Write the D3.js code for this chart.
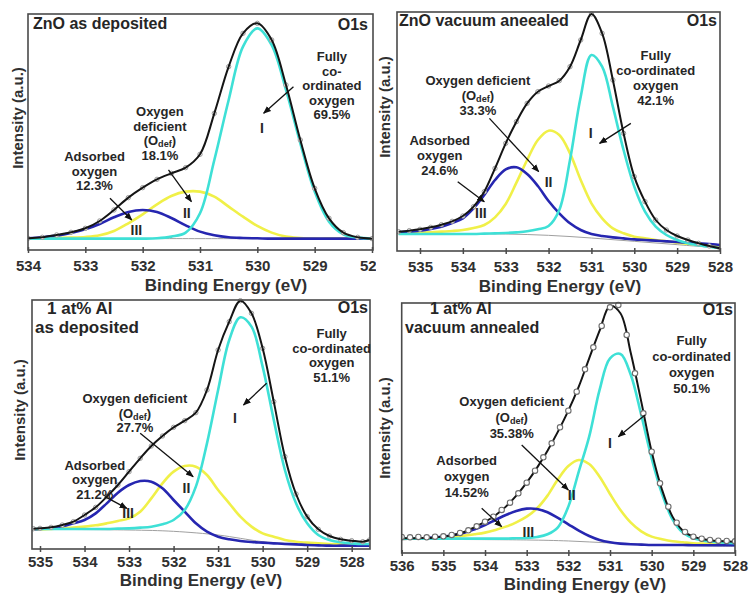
<!DOCTYPE html>
<html><head><meta charset="utf-8">
<script src="https://cdn.jsdelivr.net/npm/d3@7"></script>
<style>
body{margin:0;background:#fff;}
svg{display:block;font-family:"Liberation Sans",Arial,sans-serif;font-weight:bold;}
</style></head><body>
<svg id="chart" width="749" height="594"></svg>
<script>
// ---------------- DATA (binding energy in eV, intensity in a.u.) ----------------
// Panel 1: ZnO as deposited
const p1Energy = [534, 533.75, 533.5, 533.25, 533, 532.75, 532.5, 532.25, 532, 531.75, 531.5, 531.25, 531, 530.75, 530.5, 530.25, 530, 529.75, 529.5, 529.25, 529, 528.75, 528.5, 528.25, 528];
const p1Envelope = [33, 36, 43, 51, 63, 85, 118, 155, 185, 210, 228, 245, 285, 408, 548, 648, 678, 628, 493, 328, 183, 93, 50, 36, 32];
const p1Adsorbed = [33, 36, 41, 49, 60, 76, 96, 112, 118, 112, 94, 72, 53, 42, 36, 34, 33, 32, 32, 32, 32, 32, 32, 32, 32];
const p1Deficient = [32, 33, 34, 35, 37, 42, 55, 78, 105, 135, 160, 173, 173, 158, 128, 98, 70, 50, 38, 34, 32, 32, 32, 32, 32];
const p1Lattice = [32, 32, 32, 32, 32, 32, 32, 32, 32, 33, 38, 50, 108, 268, 448, 608, 663, 613, 478, 318, 173, 83, 45, 35, 32];
const p1BgEnergy = [534, 531, 528];
const p1Background = [33, 32, 32];
const p1Ticks = [534, 533, 532, 531, 530, 529, 528];

// Panel 2: ZnO vacuum annealed
const p2Energy = [535.5, 535.25, 535, 534.75, 534.5, 534.25, 534, 533.75, 533.5, 533.25, 533, 532.75, 532.5, 532.25, 532, 531.75, 531.5, 531.25, 531, 530.75, 530.5, 530.25, 530, 529.75, 529.5, 529.25, 529, 528.75, 528.5, 528.25, 528];
const p2Envelope = [55, 58, 62, 68, 76, 86, 102, 130, 175, 245, 320, 385, 440, 475, 492, 508, 550, 630, 708, 650, 510, 350, 220, 145, 90, 60, 42, 30, 20, 12, 5];
const p2Adsorbed = [53, 55, 58, 63, 70, 81, 95, 125, 165, 210, 242, 248, 228, 192, 147, 110, 80, 60, 48, 42, 38, 35, 32, 30, 28, 26, 24, 22, 20, 18, 15];
const p2Deficient = [50, 51, 52, 53, 55, 57, 60, 66, 75, 98, 138, 202, 270, 330, 358, 345, 290, 210, 140, 95, 65, 50, 40, 35, 30, 26, 22, 19, 16, 13, 10];
const p2Lattice = [48, 48, 48, 48, 48, 48, 48, 48, 49, 50, 51, 53, 56, 62, 72, 120, 270, 460, 585, 550, 430, 300, 190, 115, 70, 45, 30, 20, 14, 10, 5];
const p2BgEnergy = [535.5, 534, 533, 532, 531, 530, 529, 528];
const p2Background = [50, 49, 48, 44, 36, 26, 16, 6];
const p2Ticks = [535, 534, 533, 532, 531, 530, 529, 528];

// Panel 3: 1 at% Al as deposited
const p3Energy = [535.15, 535, 534.75, 534.5, 534.25, 534, 533.75, 533.5, 533.25, 533, 532.75, 532.5, 532.25, 532, 531.75, 531.5, 531.25, 531, 530.75, 530.5, 530.25, 530, 529.75, 529.5, 529.25, 529, 528.75, 528.5, 528.25, 528, 527.75, 527.6];
const p3Envelope = [64, 65, 68, 75, 85, 105, 128, 160, 195, 235, 275, 312, 342, 368, 388, 412, 480, 600, 685, 748, 710, 605, 445, 280, 168, 100, 62, 42, 32, 28, 25, 30];
const p3Adsorbed = [62, 63, 66, 71, 80, 90, 110, 140, 172, 195, 207, 205, 185, 150, 115, 80, 55, 40, 32, 27, 24, 22, 20, 18, 17, 15, 14, 13, 13, 13, 13, 13];
const p3Deficient = [62, 62, 63, 65, 67, 70, 74, 80, 87, 95, 115, 155, 200, 235, 252, 250, 225, 180, 140, 100, 70, 50, 40, 30, 25, 22, 20, 18, 17, 16, 15, 15];
const p3Lattice = [63, 63, 63, 63, 63, 63, 63, 63, 64, 65, 67, 70, 77, 90, 120, 190, 320, 480, 630, 698, 670, 550, 390, 240, 140, 80, 45, 30, 23, 20, 18, 18];
const p3BgEnergy = [535.15, 533, 532, 531, 530.5, 530, 529, 528, 527.6];
const p3Background = [62, 60, 56, 45, 35, 25, 17, 13, 12];
const p3Ticks = [535, 534, 533, 532, 531, 530, 529, 528];

// Panel 4: 1 at% Al vacuum annealed
const p4Energy = [536, 535.75, 535.5, 535.25, 535, 534.75, 534.5, 534.25, 534, 533.75, 533.5, 533.25, 533, 532.75, 532.5, 532.25, 532, 531.75, 531.5, 531.25, 531, 530.75, 530.5, 530.25, 530, 529.75, 529.5, 529.25, 529, 528.75, 528.5, 528.25, 528];
const p4Envelope = [45, 45, 46, 47, 50, 55, 64, 78, 94, 114, 140, 173, 212, 257, 308, 365, 428, 500, 585, 668, 742, 720, 600, 455, 305, 190, 110, 68, 50, 42, 38, 36, 35];
const p4Adsorbed = [43, 44, 45, 47, 50, 55, 62, 72, 85, 100, 115, 127, 134, 133, 123, 106, 87, 68, 52, 40, 33, 29, 27, 26, 25, 25, 25, 25, 24, 24, 24, 24, 24];
const p4Deficient = [43, 44, 45, 46, 48, 50, 53, 57, 62, 70, 80, 93, 110, 135, 173, 222, 262, 280, 268, 230, 178, 130, 92, 66, 50, 42, 36, 33, 30, 29, 28, 27, 27];
const p4Lattice = [44, 44, 44, 44, 44, 44, 44, 44, 44, 44, 44, 45, 46, 49, 57, 78, 140, 245, 350, 490, 585, 598, 535, 415, 285, 178, 102, 62, 45, 38, 34, 32, 30];
const p4DataEnergy = [536, 535.8, 535.6, 535.4, 535.2, 535, 534.8, 534.6, 534.4, 534.2, 534, 533.8, 533.6, 533.4, 533.2, 533, 532.8, 532.6, 532.4, 532.2, 532, 531.8, 531.6, 531.4, 531.2, 531, 530.8, 530.6, 530.4, 530.2, 530, 529.8, 529.6, 529.4, 529.2, 529, 528.8, 528.6, 528.4, 528.2, 528];
const p4Data = [49, 48, 49, 48, 50, 51, 55, 61, 69, 81, 95, 110, 130, 152, 180, 212, 248, 288, 330, 378, 428, 485, 552, 618, 682, 738, 745, 655, 540, 420, 305, 210, 140, 92, 64, 50, 44, 40, 38, 37, 36];
const p4BgEnergy = [536, 533, 532, 531, 530, 529, 528];
const p4Background = [42, 40, 37, 31, 26, 23, 21];
const p4Ticks = [536, 535, 534, 533, 532, 531, 530, 529, 528];

// Text labels
const panelTitles = [["ZnO  as deposited"], ["ZnO vacuum aneealed"], ["1 at% Al", "as deposited"], ["1 at% Al", "vacuum annealed"]];
const latticeLabels = [["Fully", "co-", "ordinated", "oxygen", "69.5%"], ["Fully", "co-ordinated", "oxygen", "42.1%"], ["Fully", "co-ordinated", "oxygen", "51.1%"], ["Fully", "co-ordinated", "oxygen", "50.1%"]];
const deficientLabels = [["Oxygen", "deficient", "(O{def})", "18.1%"], ["Oxygen deficient", "(O{def})", "33.3%"], ["Oxygen deficient", "(O{def})", "27.7%"], ["Oxygen deficient", "(O{def})", "35.38%"]];
const adsorbedLabels = [["Adsorbed", "oxygen", "12.3%"], ["Adsorbed", "oxygen", "24.6%"], ["Adsorbed", "oxygen", "21.2%"], ["Adsorbed", "oxygen", "14.52%"]];
const peakNames = ["I", "II", "III"];
const xTitle = "Binding Energy (eV)";
const yTitle = "Intensity (a.u.)";
const coreLevel = "O1s";

// ---------------- LAYOUT ----------------
const panels = [
  { E: p1Energy, env: p1Envelope, ads: p1Adsorbed, def: p1Deficient, lat: p1Lattice, bgE: p1BgEnergy, bg: p1Background,
    dataE: p1Energy, data: p1Envelope, dataOnTop: false, ticks: p1Ticks,
    xDomain: [534, 528], xRange: [28, 372], yDomain: [0, 706], yRange: [249.3, 14],
    frame: { l: 28, r: 373, t: 14, b: 250 }, pad: 7.35, titleSize: 16,
    titlePos: [[33, 29]], o1s: [368, 30], xT: [226, 291], yT: [23, 118], lh: 14.5,
    ann: { lat: [528.70, 564, 529.37, 488, 529.89, 408, 529.92, 348],
           def: [531.70, 399, 531.55, 238, 531.15, 143, 531.23, 93],
           ads: [532.84, 264, 532.57, 153, 532.19, 88, 532.11, 43] } },
  { E: p2Energy, env: p2Envelope, ads: p2Adsorbed, def: p2Deficient, lat: p2Lattice, bgE: p2BgEnergy, bg: p2Background,
    dataE: p2Energy, data: p2Envelope, dataOnTop: false, ticks: p2Ticks, cover: [376, 0, 373, 296],
    xDomain: [535, 528], xRange: [420, 720], yDomain: [0, 714], yRange: [250, 12],
    frame: { l: 397, r: 720, t: 12, b: 251 }, pad: 6.85, titleSize: 16,
    titlePos: [[399, 26]], o1s: [717, 26], xT: [560, 291.5], yT: [390, 107], lh: 15,
    ann: { lat: [529.50, 571, 530.08, 380, 530.81, 320, 531.02, 335],
           def: [533.65, 496, 533.38, 395, 532.23, 235, 532.0, 190],
           ads: [534.54, 316, 534.12, 205, 533.5, 145, 533.58, 95] } },
  { E: p3Energy, env: p3Envelope, ads: p3Adsorbed, def: p3Deficient, lat: p3Lattice, bgE: p3BgEnergy, bg: p3Background,
    dataE: p3Energy, data: p3Envelope, dataOnTop: false, ticks: p3Ticks,
    xDomain: [535, 528], xRange: [40, 351.7], yDomain: [0, 750], yRange: [550, 300],
    frame: { l: 32, r: 370, t: 300, b: 549 }, pad: 3.85, titleSize: 17,
    titlePos: [[47, 314], [35, 333]], o1s: [368, 313], xT: [201, 585.5], yT: [25, 410], lh: 14.5,
    ann: { lat: [528.45, 636, 529.91, 500, 530.43, 435, 530.62, 380],
           def: [532.87, 441, 532.75, 350, 531.56, 220, 531.71, 170],
           ads: [533.77, 241, 533.54, 160, 533.05, 125, 533.02, 95] } },
  { E: p4Energy, env: p4Envelope, ads: p4Adsorbed, def: p4Deficient, lat: p4Lattice, bgE: p4BgEnergy, bg: p4Background,
    dataE: p4DataEnergy, data: p4Data, dataOnTop: true, ticks: p4Ticks, cover: [376, 296, 373, 298],
    xDomain: [536, 528], xRange: [401.7, 735], yDomain: [0, 750], yRange: [553.3, 303.3],
    frame: { l: 401.7, r: 735, t: 303, b: 553 }, pad: 4.35, titleSize: 16,
    titlePos: [[430, 314], [405, 333]], o1s: [733, 315], xT: [585, 590], yT: [390, 428], lh: 16,
    ann: { lat: [529.04, 626, 530.16, 415, 530.8, 350, 531.0, 315],
           def: [533.36, 441, 533.12, 325, 532.0, 190, 531.92, 160],
           ads: [534.44, 266, 534.08, 135, 533.6, 80, 532.96, 50] } }
];

const COL = { ads: "#2626b0", def: "#f0f048", lat: "#3ee0d6", env: "#151515", bg: "#a0a0a0", text: "#262626", frame: "#4a4a4a" };
const ANN_SIZE = 13;
const TICK_SIZE = 15;

const svg = d3.select("#chart");
const defs = svg.append("defs");
defs.append("marker").attr("id", "ah").attr("viewBox", "0 0 10 10").attr("refX", 9).attr("refY", 5)
  .attr("markerWidth", 8).attr("markerHeight", 8).attr("markerUnits", "userSpaceOnUse").attr("orient", "auto")
  .append("path").attr("d", "M0,1 L10,5 L0,9 Z").attr("fill", "#111");

function addLine(g, x, y, xs, ys, color, width, clip) {
  const gen = d3.line().x((d, i) => x(xs[i])).y(d => y(d)).curve(d3.curveCatmullRom.alpha(0.5));
  g.append("path").attr("d", gen(ys)).attr("fill", "none").attr("stroke", color)
    .attr("stroke-width", width).attr("stroke-linejoin", "round").attr("clip-path", `url(#${clip})`);
}

function addTextLine(g, px, py, str, size) {
  const t = g.append("text").attr("x", px).attr("y", py).attr("text-anchor", "middle")
    .attr("font-size", size).attr("fill", COL.text);
  const m = str.match(/^(.*?)\{(.+?)\}(.*)$/);
  if (m) {
    t.append("tspan").text(m[1]);
    t.append("tspan").attr("font-size", size * 0.7).attr("dy", 2).text(m[2]);
    t.append("tspan").attr("dy", -2).text(m[3]);
  } else t.text(str);
}

panels.forEach((p, pi) => {
  const g = svg.append("g");
  if (p.cover) g.append("rect").attr("x", p.cover[0]).attr("y", p.cover[1]).attr("width", p.cover[2]).attr("height", p.cover[3]).attr("fill", "#fff");
  const x = d3.scaleLinear().domain(p.xDomain).range(p.xRange);
  const y = d3.scaleLinear().domain(p.yDomain).range(p.yRange);
  const f = p.frame;
  const clip = "clip" + pi;
  defs.append("clipPath").attr("id", clip).append("rect")
    .attr("x", f.l).attr("y", f.t - 2).attr("width", f.r - f.l).attr("height", f.b - f.t + 2);

  // curves
  addLine(g, x, y, p.bgE, p.bg, COL.bg, 1, clip);
  addLine(g, x, y, p.E, p.def, COL.def, 2.6, clip);
  addLine(g, x, y, p.E, p.ads, COL.ads, 2.6, clip);
  addLine(g, x, y, p.E, p.lat, COL.lat, 2.6, clip);
  const drawData = (r, sw, fill, stroke) => {
    g.append("g").attr("clip-path", `url(#${clip})`).selectAll("circle").data(p.data).join("circle")
      .attr("cx", (d, i) => x(p.dataE[i])).attr("cy", d => y(d)).attr("r", r)
      .attr("fill", fill).attr("stroke", stroke).attr("stroke-width", sw);
  };
  if (!p.dataOnTop) drawData(2.2, 1, "#fff", "#9a9a9a");
  addLine(g, x, y, p.E, p.env, COL.env, 2, clip);
  if (p.dataOnTop) drawData(2.7, 1.1, "#fff", "#6d6d6d");

  // frame
  g.append("rect").attr("x", f.l).attr("y", f.t).attr("width", f.r - f.l).attr("height", f.b - f.t)
    .attr("fill", "none").attr("stroke", COL.frame).attr("stroke-width", 1.6);

  // axis
  const ax = g.append("g").attr("transform", `translate(0,${f.b})`)
    .call(d3.axisBottom(x).tickValues(p.ticks).tickFormat(d3.format("d")).tickSizeInner(3).tickSizeOuter(0).tickPadding(p.pad));
  ax.select(".domain").remove();
  ax.attr("font-family", null).attr("font-size", null);
  ax.selectAll("text").attr("font-size", TICK_SIZE).attr("font-weight", "bold").attr("fill", "#303030");
  ax.selectAll("line").attr("stroke", COL.frame).attr("stroke-width", 1.5);
  const ax2 = g.append("g").attr("transform", `translate(0,${f.b})`)
    .call(d3.axisBottom(x).tickValues(p.ticks).tickFormat("").tickSizeInner(-3).tickSizeOuter(0));
  ax2.select(".domain").remove();
  ax2.selectAll("line").attr("stroke", COL.frame).attr("stroke-width", 1.5);

  // axis titles
  g.append("text").attr("x", p.xT[0]).attr("y", p.xT[1]).attr("text-anchor", "middle")
    .attr("font-size", 17).attr("fill", "#303030").text(xTitle);
  g.append("text").attr("transform", `translate(${p.yT[0]},${p.yT[1]}) rotate(-90)`).attr("text-anchor", "middle")
    .attr("font-size", 15).attr("fill", "#303030").text(yTitle);

  // panel titles
  panelTitles[pi].forEach((s, k) => {
    g.append("text").attr("x", p.titlePos[k][0]).attr("y", p.titlePos[k][1]).attr("font-size", p.titleSize)
      .attr("fill", COL.text).text(s);
  });
  g.append("text").attr("x", p.o1s[0]).attr("y", p.o1s[1]).attr("text-anchor", "end").attr("font-size", 16)
    .attr("fill", COL.text).text(coreLevel);

  // annotations
  const groups = [["lat", latticeLabels[pi], peakNames[0]], ["def", deficientLabels[pi], peakNames[1]], ["ads", adsorbedLabels[pi], peakNames[2]]];
  groups.forEach(([key, lines, roman]) => {
    const a = p.ann[key];
    lines.forEach((s, k) => addTextLine(g, x(a[0]), y(a[1]) + k * p.lh, s, ANN_SIZE));
    g.append("line").attr("x1", x(a[2])).attr("y1", y(a[3])).attr("x2", x(a[4])).attr("y2", y(a[5]))
      .attr("stroke", "#111").attr("stroke-width", 1.3).attr("marker-end", "url(#ah)");
    addTextLine(g, x(a[6]), y(a[7]), roman, 14);
  });
});
</script>
</body></html>
